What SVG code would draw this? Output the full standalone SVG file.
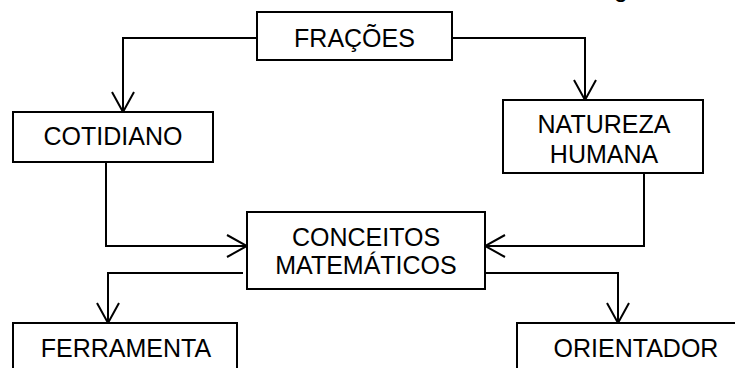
<svg xmlns="http://www.w3.org/2000/svg" width="735" height="368" viewBox="0 0 735 368">
<defs>
<style>
.box{fill:#fff;stroke:#000;stroke-width:2}
.lbl{font-family:"Liberation Sans",Arial,sans-serif;font-size:25px;fill:#000;text-anchor:middle}
.con{fill:none;stroke:#000;stroke-width:2}
</style>
<marker id="arr" viewBox="0 0 22 24" refX="21" refY="12" markerWidth="22" markerHeight="24" markerUnits="userSpaceOnUse" orient="auto">
<path d="M1,1 L21,12 L1,23" fill="none" stroke="#000" stroke-width="2"/>
</marker>
</defs>
<rect width="735" height="368" fill="#fff"/>
<text class="lbl" x="621" y="-3">g</text>
<g id="connectors">
<path class="con" d="M257,38 H123 V112" marker-end="url(#arr)"/>
<path class="con" d="M452,38 H585 V100" marker-end="url(#arr)"/>
<path class="con" d="M106,162 V246 H247" marker-end="url(#arr)"/>
<path class="con" d="M644,173 V246 H485" marker-end="url(#arr)"/>
<path class="con" d="M243,273 H108 V323" marker-end="url(#arr)"/>
<path class="con" d="M485,273 H618 V323" marker-end="url(#arr)"/>
</g>
<g id="fracoes">
<rect class="box" x="257" y="12" width="195" height="48"/>
<text class="lbl" x="354.5" y="47">FRAÇÕES</text>
</g>
<g id="cotidiano">
<rect class="box" x="13" y="112" width="200" height="50"/>
<text class="lbl" x="113" y="145">COTIDIANO</text>
</g>
<g id="natureza">
<rect class="box" x="503" y="100" width="200" height="73"/>
<text class="lbl" x="604" y="133">NATUREZA</text>
<text class="lbl" x="604" y="163">HUMANA</text>
</g>
<g id="conceitos">
<rect class="box" x="247" y="212" width="238" height="77"/>
<text class="lbl" x="366" y="246">CONCEITOS</text>
<text class="lbl" x="366" y="274">MATEMÁTICOS</text>
</g>
<g id="ferramenta">
<rect class="box" x="13" y="323" width="224" height="60"/>
<text class="lbl" x="126" y="357">FERRAMENTA</text>
</g>
<g id="orientador">
<rect class="box" x="517" y="323" width="240" height="60"/>
<text class="lbl" x="636" y="357">ORIENTADOR</text>
</g>
</svg>
